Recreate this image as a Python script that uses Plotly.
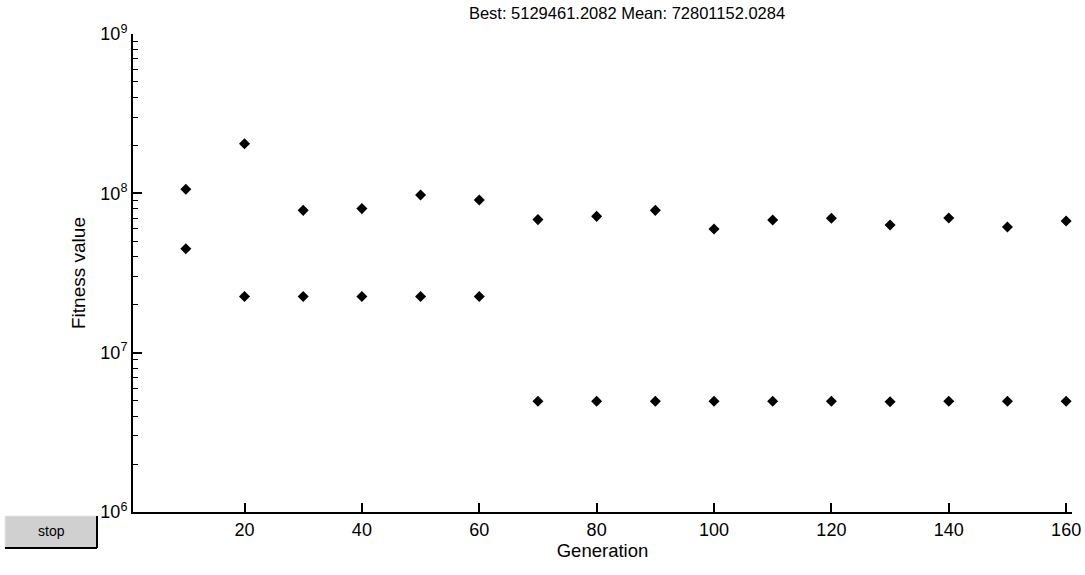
import plotly.graph_objects as go

# Data
generations = [10, 20, 30, 40, 50, 60, 70, 80, 90, 100, 110, 120, 130, 140, 150, 160]
mean_fitness = [1.06e8, 2.05e8, 7.82e7, 8.02e7, 9.77e7, 9.08e7, 6.84e7, 7.17e7,
                7.82e7, 5.97e7, 6.81e7, 6.97e7, 6.32e7, 7.01e7, 6.15e7, 6.71e7]
best_fitness = [4.49e7, 2.25e7, 2.25e7, 2.25e7, 2.25e7, 2.25e7, 4.95e6, 4.95e6,
                4.95e6, 4.95e6, 4.95e6, 4.95e6, 4.92e6, 4.95e6, 4.95e6, 4.95e6]
x_ticks = [20, 40, 60, 80, 100, 120, 140, 160]
y_ticks = [1e6, 1e7, 1e8, 1e9]
y_tick_text = ["10<sup>6</sup>", "10<sup>7</sup>", "10<sup>8</sup>", "10<sup>9</sup>"]
decades = [6, 7, 8]
minor_vals = [m * 10 ** e for e in decades for m in range(2, 10)]
title_text = "Best: 5129461.2082 Mean: 72801152.0284"

W, H = 1085, 575
ML, MR, MT, MB = 133, 13, 34, 63
PW, PH = W - ML - MR, H - MT - MB


def px(x):
    return (x - ML) / PW


def py(y):
    return (H - MB - y) / PH


marker = dict(symbol="diamond", size=8.5, color="black")
fig = go.Figure()
fig.add_trace(go.Scatter(x=generations, y=best_fitness, mode="markers",
                         marker=marker, name="Best", showlegend=False))
fig.add_trace(go.Scatter(x=generations, y=mean_fitness, mode="markers",
                         marker=marker, name="Mean", showlegend=False))

font = dict(family="Liberation Sans, Arial, sans-serif", color="black")

fig.update_layout(
    width=W, height=H,
    margin=dict(l=ML, r=MR, t=MT, b=MB, autoexpand=False),
    paper_bgcolor="white", plot_bgcolor="white",
    font=dict(**font, size=17),
    title=dict(text=title_text, xref="paper", xanchor="center",
               y=1 - 13 / H, yref="container", yanchor="middle",
               font=dict(**font, size=16.5)),
    xaxis=dict(
        range=[1, 161], tickmode="array", tickvals=x_ticks,
        ticks="inside", ticklen=9, tickwidth=1.5, tickcolor="black",
        showline=True, linecolor="black", linewidth=2, showgrid=False,
        zeroline=False, tickfont=dict(**font, size=18), automargin=False,
        title=dict(text="Generation", font=dict(**font, size=18.5), standoff=4),
    ),
    yaxis=dict(
        type="log", range=[6, 9], tickmode="array", tickvals=y_ticks,
        ticktext=y_tick_text, ticks="inside", ticklen=9, tickwidth=1.5,
        tickcolor="black", showline=True, linecolor="black", linewidth=2,
        showgrid=False, zeroline=False, tickfont=dict(**font, size=18),
        automargin=False,
        minor=dict(tickmode="array", tickvals=minor_vals, ticks="inside",
                   ticklen=5, tickwidth=1, tickcolor="black", showgrid=False),
        title=dict(text="Fitness value", font=dict(**font, size=19), standoff=10),
    ),
)
fig.layout.title.x = px(627)

# stop button
fig.add_shape(type="rect", xref="paper", yref="paper",
              x0=px(5), x1=px(97), y0=py(548), y1=py(516),
              fillcolor="#d0d0d0", line=dict(color="#e8e8e8", width=1))
fig.add_shape(type="line", xref="paper", yref="paper",
              x0=px(5), x1=px(97), y0=py(548), y1=py(548),
              line=dict(color="black", width=2))
fig.add_shape(type="line", xref="paper", yref="paper",
              x0=px(97), x1=px(97), y0=py(548), y1=py(516),
              line=dict(color="black", width=2))
fig.add_annotation(text="stop", xref="paper", yref="paper",
                   x=px(51), y=py(531), showarrow=False,
                   xanchor="center", yanchor="middle",
                   font=dict(**font, size=14))

fig.write_html("out.html",
               config={"displayModeBar": False},
               post_script="document.body.style.margin='0';"
                           "document.body.style.overflow='hidden';")
